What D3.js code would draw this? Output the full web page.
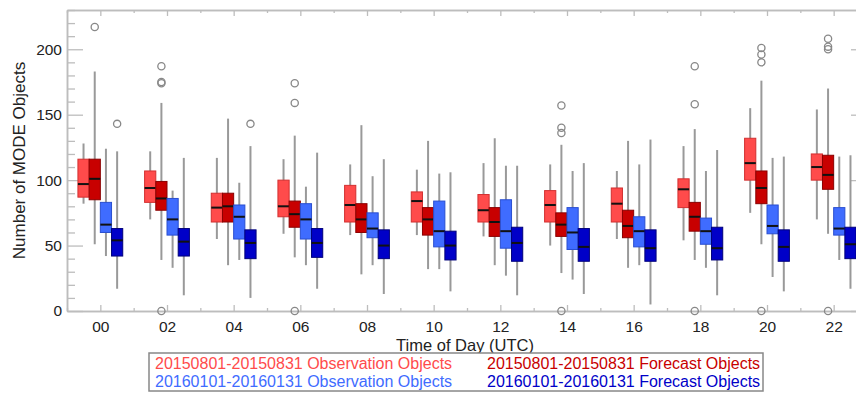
<!DOCTYPE html>
<html>
<head>
<meta charset="utf-8">
<script src="https://cdn.jsdelivr.net/npm/d3@7"></script>
<style>
  body { margin: 0; background: #fff; }
  svg { display: block; font-family: "Liberation Sans", Arial, sans-serif; }
</style>
</head>
<body>
<svg id="chart" width="856" height="393"></svg>
<script>
// hours of day (UTC)
const hours = [0, 2, 4, 6, 8, 10, 12, 14, 16, 18, 20, 22]
const hourLabels = ["00", "02", "04", "06", "08", "10", "12", "14", "16", "18", "20", "22"]

// each entry: [whisker low, q1, median, q3, whisker high]
const obsAug = [
  [82, 87, 97, 116, 128], [70, 83, 94, 107, 122], [55, 68, 79, 90, 117], [59, 72, 80, 100, 116],
  [58, 68, 81, 96, 112], [58, 68, 84, 91, 108], [57, 68, 77, 89, 113], [50, 68, 81, 92, 112],
  [55, 68, 82, 94, 107], [54, 79, 93, 101, 126], [75, 100, 113, 132, 155], [70, 100, 110, 120, 154]
]
const fcstAug = [
  [51, 85, 101, 116, 183], [39, 77, 86, 99, 159], [35, 68, 80, 90, 147], [41, 64, 74, 84, 134],
  [28, 60, 70, 82, 142], [32, 58, 70, 79, 130], [35, 57, 68, 79, 132], [29, 57, 66, 75, 127],
  [33, 56, 65, 77, 130], [39, 61, 72, 83, 139], [51, 82, 94, 107, 176], [59, 93, 104, 119, 170]
]
const obsJan = [
  [42, 60, 66, 83, 124], [33, 58, 70, 86, 92], [39, 55, 72, 81, 98], [35, 55, 70, 82, 95],
  [35, 56, 63, 75, 103], [32, 49, 61, 84, 105], [27, 48, 61, 85, 111], [24, 47, 60, 79, 107],
  [35, 49, 61, 72, 112], [33, 51, 61, 71, 107], [26, 59, 65, 81, 117], [39, 58, 63, 79, 118]
]
const fcstJan = [
  [17, 42, 54, 63, 122], [12, 42, 53, 63, 117], [10, 40, 52, 62, 126], [17, 41, 52, 63, 121],
  [13, 40, 50, 62, 116], [15, 39, 50, 61, 106], [12, 38, 52, 64, 111], [13, 38, 49, 63, 113],
  [5, 38, 48, 62, 131], [12, 39, 48, 64, 123], [15, 38, 49, 62, 118], [17, 40, 51, 64, 119]
]

// outliers per hour group
const fcstAugOutliers = [[217], [187, 175, 174, 0], [], [174, 159, 0], [], [], [], [157, 140, 136, 0], [], [187, 158, 0], [201, 196, 190, 0], [208, 202, 200, 0]]
const fcstJanOutliers = [[143], [], [143], [], [], [], [], [], [], [], [], []]

const seriesNames = ["20150801-20150831 Observation Objects", "20150801-20150831 Forecast Objects",
  "20160101-20160131 Observation Objects", "20160101-20160131 Forecast Objects"]
const yTicks = [0, 50, 100, 150, 200]

const series = [
  { name: seriesNames[0], stats: obsAug, outliers: [], fill: "#ff4b4b", stroke: "#d23030" },
  { name: seriesNames[1], stats: fcstAug, outliers: fcstAugOutliers, fill: "#c80000", stroke: "#8a0000" },
  { name: seriesNames[2], stats: obsJan, outliers: [], fill: "#3f6cff", stroke: "#2a4fd0" },
  { name: seriesNames[3], stats: fcstJan, outliers: fcstJanOutliers, fill: "#0000c8", stroke: "#00007a" },
]

const svg = d3.select("#chart")
const plotLeft = 67, plotRight = 867, plotTop = 10, plotBottom = 311

const x = d3.scaleLinear().domain([-1, 23]).range([plotLeft, plotRight])
const y = d3.scaleLinear().domain([0, 230]).range([plotBottom, plotTop])
const inner = d3.scaleBand().domain(d3.range(4)).range([-22.4, 22.4]).padding(0)
const bw = inner.bandwidth()

const axisColor = "#bdbdbd"
const textColor = "#222"

function styleAxis(g) {
  g.select(".domain").attr("stroke", axisColor).attr("stroke-width", 1.5)
  g.selectAll(".tick line").attr("stroke", axisColor).attr("stroke-width", 1.3)
  g.selectAll("text").attr("fill", textColor).style("font-size", "15.5px")
}

const minorY = d3.range(0, 231, 10).filter(v => v % 50 !== 0)
const oddHours = d3.range(-1, 24, 2)

// left axis
svg.append("g").attr("transform", `translate(${plotLeft},0)`)
  .call(d3.axisLeft(y).tickValues(yTicks).tickSize(-16).tickPadding(5).tickSizeOuter(0))
  .call(styleAxis)
svg.append("g").attr("transform", `translate(${plotLeft},0)`)
  .call(d3.axisLeft(y).tickValues(minorY).tickSize(-8).tickFormat("").tickSizeOuter(0))
  .call(styleAxis)

// right axis (mirror)
svg.append("g").attr("transform", `translate(${plotRight},0)`)
  .call(d3.axisRight(y).tickValues(yTicks).tickSize(-16).tickFormat("").tickSizeOuter(0))
  .call(styleAxis)
svg.append("g").attr("transform", `translate(${plotRight},0)`)
  .call(d3.axisRight(y).tickValues(minorY).tickSize(-8).tickFormat("").tickSizeOuter(0))
  .call(styleAxis)

// bottom axis
svg.append("g").attr("transform", `translate(0,${plotBottom})`)
  .call(d3.axisBottom(x).tickValues(hours).tickSize(-6).tickPadding(10).tickSizeOuter(0)
    .tickFormat((d, i) => hourLabels[i]))
  .call(styleAxis)
svg.append("g").attr("transform", `translate(0,${plotBottom})`)
  .call(d3.axisBottom(x).tickValues(oddHours).tickSize(-3).tickFormat("").tickSizeOuter(0))
  .call(styleAxis)

// top axis
svg.append("g").attr("transform", `translate(0,${plotTop})`)
  .call(d3.axisTop(x).tickValues(hours).tickSize(-6).tickFormat("").tickSizeOuter(0))
  .call(styleAxis)
svg.append("g").attr("transform", `translate(0,${plotTop})`)
  .call(d3.axisTop(x).tickValues(oddHours).tickSize(-3).tickFormat("").tickSizeOuter(0))
  .call(styleAxis)

// whiskers
const plot = svg.append("g")
series.forEach((s, si) => {
  plot.selectAll(null)
    .data(s.stats)
    .enter()
    .append("line")
    .attr("x1", (d, i) => x(hours[i]) + inner(si) + bw / 2)
    .attr("x2", (d, i) => x(hours[i]) + inner(si) + bw / 2)
    .attr("y1", d => y(d[0]))
    .attr("y2", d => y(d[4]))
    .attr("stroke", "#999")
    .attr("stroke-width", 2)
})

// boxes + medians
series.forEach((s, si) => {
  const g = plot.append("g")
  g.selectAll("rect")
    .data(s.stats)
    .enter()
    .append("rect")
    .attr("x", (d, i) => x(hours[i]) + inner(si))
    .attr("y", d => y(d[3]))
    .attr("width", bw)
    .attr("height", d => y(d[1]) - y(d[3]))
    .attr("fill", s.fill)
    .attr("stroke", s.stroke)
    .attr("stroke-width", 1)

  g.selectAll("line")
    .data(s.stats)
    .enter()
    .append("line")
    .attr("x1", (d, i) => x(hours[i]) + inner(si))
    .attr("x2", (d, i) => x(hours[i]) + inner(si) + bw)
    .attr("y1", d => y(d[2]))
    .attr("y2", d => y(d[2]))
    .attr("stroke", "#111")
    .attr("stroke-width", 2)
})

// outliers
series.forEach((s, si) => {
  const pts = []
  s.outliers.forEach((vals, i) => vals.forEach(v => pts.push({ h: hours[i], v })))
  plot.selectAll(null)
    .data(pts)
    .enter()
    .append("circle")
    .attr("cx", d => x(d.h) + inner(si) + bw / 2)
    .attr("cy", d => y(d.v))
    .attr("r", 3.6)
    .attr("fill", "none")
    .attr("stroke", "#888")
    .attr("stroke-width", 1.3)
})

// axis titles
svg.append("text")
  .attr("transform", `translate(25,${(plotTop + plotBottom) / 2}) rotate(-90)`)
  .attr("text-anchor", "middle")
  .attr("fill", textColor)
  .style("font-size", "17px")
  .text("Number of MODE Objects")

svg.append("text")
  .attr("x", 465)
  .attr("y", 351)
  .attr("text-anchor", "middle")
  .attr("fill", textColor)
  .style("font-size", "16.5px")
  .text("Time of Day (UTC)")

// legend
const legend = svg.append("g")
legend.append("rect")
  .attr("x", 149).attr("y", 353).attr("width", 614).attr("height", 38)
  .attr("fill", "#fff").attr("stroke", "#888").attr("stroke-width", 1.5)

const legendPos = [[155, 369], [487, 369], [155, 387], [487, 387]]
const legendColors = ["#ff4b4b", "#c80000", "#3f6cff", "#0000c8"]
legend.selectAll("text")
  .data(series)
  .enter()
  .append("text")
  .attr("x", (d, i) => legendPos[i][0])
  .attr("y", (d, i) => legendPos[i][1])
  .attr("fill", (d, i) => legendColors[i])
  .style("font-size", "16px")
  .text(d => d.name)
</script>
</body>
</html>
